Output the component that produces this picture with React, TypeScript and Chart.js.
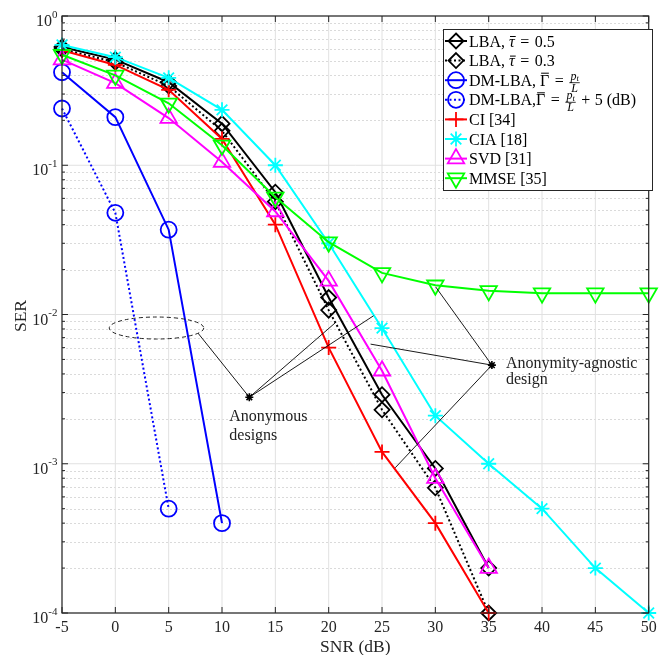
import React, { useEffect, useRef } from 'react';
import { Chart, registerables } from 'chart.js';

Chart.register(...registerables);

// ---------------- data ----------------
const SNR_DB = [-5, 0, 5, 10, 15, 20, 25, 30, 35, 40, 45, 50];
const X_TICKS = [-5, 0, 5, 10, 15, 20, 25, 30, 35, 40, 45, 50];
const Y_DECADES = [-4, -3, -2, -1, 0];

const SER_LBA_05 = [0.62, 0.51, 0.36, 0.19, 0.066, 0.013, 0.0029, 0.00093, 0.0002];
const SER_LBA_03 = [0.6, 0.49, 0.34, 0.17, 0.057, 0.0107, 0.0023, 0.00069, 0.0001];
const SER_DM_LBA = [0.42, 0.21, 0.037, 0.0004];
const SER_DM_LBA_5 = [0.24, 0.048, 0.0005];
const SER_CI = [0.59, 0.47, 0.32, 0.15, 0.04, 0.006, 0.0012, 0.0004, 0.0001];
const SER_CIA = [0.64, 0.53, 0.385, 0.235, 0.1, 0.03, 0.0081, 0.0021, 0.001, 0.0005, 0.0002, 0.0001];
const SER_SVD = [0.51, 0.355, 0.207, 0.105, 0.049, 0.0168, 0.0042, 0.0008, 0.0002];
const SER_MMSE = [0.55, 0.4, 0.26, 0.136, 0.061, 0.0305, 0.019, 0.0157, 0.0144, 0.0139, 0.0139, 0.0139];

const SERIES_LABELS = [
  'LBA, τ̄ = 0.5',
  'LBA, τ̄ = 0.3',
  'DM-LBA, Γ̄ = p_t/L',
  'DM-LBA,Γ̄ = p_t/L + 5 (dB)',
  'CI [34]',
  'CIA [18]',
  'SVD [31]',
  'MMSE [35]',
];

// annotation anchors (SNR dB, SER)
const ANON_STAR = [12.56, 0.00279];
const ANON_TARGETS = [
  [7.75, 0.0075],
  [20.7, 0.0089],
  [24.2, 0.0098],
];
const ANON_ELLIPSE_X = [-0.57, 8.29];
const ANON_ELLIPSE_Y = [0.00685, 0.00962];
const ANON_TEXT = ['Anonymous', 'designs'];
const AGN_STAR = [35.3, 0.00458];
const AGN_TARGETS = [
  [30.03, 0.0153],
  [23.93, 0.00633],
  [26.24, 0.00094],
];
const AGN_TEXT = ['Anonymity-agnostic', 'design'];

// ---------------- styling ----------------
const FONT = '"Liberation Serif", "Times New Roman", serif';
const AXIS_COLOR = '#262626';

type Kind = 'diamond' | 'circle' | 'cross' | 'star' | 'triUp' | 'triDown';

const STYLES: { color: string; kind: Kind; r: number; dash: number[] }[] = [
  { color: '#000000', kind: 'diamond', r: 7.5, dash: [] },
  { color: '#000000', kind: 'diamond', r: 7.5, dash: [2, 2.5] },
  { color: '#0000ff', kind: 'circle', r: 8, dash: [] },
  { color: '#0000ff', kind: 'circle', r: 8, dash: [2, 2.5] },
  { color: '#ff0000', kind: 'cross', r: 7.5, dash: [] },
  { color: '#00ffff', kind: 'star', r: 7.5, dash: [] },
  { color: '#ff00ff', kind: 'triUp', r: 9.5, dash: [] },
  { color: '#00ff00', kind: 'triDown', r: 9.5, dash: [] },
];

const CHART_STYLE: Record<Kind, { ps: string; rot: number }> = {
  diamond: { ps: 'rectRot', rot: 0 },
  circle: { ps: 'circle', rot: 0 },
  cross: { ps: 'cross', rot: 0 },
  star: { ps: 'star', rot: 0 },
  triUp: { ps: 'triangle', rot: 0 },
  triDown: { ps: 'triangle', rot: 180 },
};

type Seg = { t?: string; it?: boolean; bar?: number; pad?: number; frac?: boolean };
const LEGEND_SEGS: Seg[][] = [
  [{ t: 'LBA, ' }, { t: 'τ', it: true, bar: 10 }, { t: '=', pad: 5.5 }, { t: '0.5' }],
  [{ t: 'LBA, ' }, { t: 'τ', it: true, bar: 10 }, { t: '=', pad: 5.5 }, { t: '0.3' }],
  [{ t: 'DM-LBA, ' }, { t: 'Γ', bar: 12.5 }, { t: '=', pad: 5.5 }, { frac: true }],
  [{ t: 'DM-LBA,' }, { t: 'Γ', bar: 12.5 }, { t: '=', pad: 5.5 }, { frac: true }, { t: '+', pad: 4.5 }, { t: '5 (dB)' }],
  [{ t: 'CI [34]' }],
  [{ t: 'CIA [18]' }],
  [{ t: 'SVD [31]' }],
  [{ t: 'MMSE [35]' }],
];

function drawMarker(ctx: CanvasRenderingContext2D, kind: Kind, x: number, y: number, r: number) {
  ctx.beginPath();
  if (kind === 'diamond') {
    ctx.moveTo(x, y - r);
    ctx.lineTo(x + r, y);
    ctx.lineTo(x, y + r);
    ctx.lineTo(x - r, y);
    ctx.closePath();
  } else if (kind === 'circle') {
    ctx.arc(x, y, r, 0, Math.PI * 2);
  } else if (kind === 'cross') {
    ctx.moveTo(x - r, y);
    ctx.lineTo(x + r, y);
    ctx.moveTo(x, y - r);
    ctx.lineTo(x, y + r);
  } else if (kind === 'star') {
    const d = r * Math.SQRT1_2;
    ctx.moveTo(x - r, y);
    ctx.lineTo(x + r, y);
    ctx.moveTo(x, y - r);
    ctx.lineTo(x, y + r);
    ctx.moveTo(x - d, y - d);
    ctx.lineTo(x + d, y + d);
    ctx.moveTo(x - d, y + d);
    ctx.lineTo(x + d, y - d);
  } else {
    let a = kind === 'triUp' ? 0 : Math.PI;
    for (let i = 0; i < 3; i++) {
      const px = x + Math.sin(a) * r;
      const py = y - Math.cos(a) * r;
      if (i === 0) ctx.moveTo(px, py);
      else ctx.lineTo(px, py);
      a += (2 * Math.PI) / 3;
    }
    ctx.closePath();
  }
  ctx.stroke();
}

function drawRich(ctx: CanvasRenderingContext2D, segs: Seg[], x0: number, yb: number) {
  let cx = x0;
  ctx.textBaseline = 'alphabetic';
  ctx.textAlign = 'left';
  for (const s of segs) {
    if (s.frac) {
      ctx.font = `italic 12px ${FONT}`;
      const pw = ctx.measureText('p').width;
      const lw = ctx.measureText('L').width;
      ctx.font = `italic 8.5px ${FONT}`;
      const tw = ctx.measureText('t').width;
      const w = Math.max(pw + tw, lw) + 2;
      const nx = cx + (w - (pw + tw)) / 2;
      ctx.font = `italic 12px ${FONT}`;
      ctx.fillText('p', nx, yb - 6);
      ctx.fillText('L', cx + (w - lw) / 2, yb + 6);
      ctx.font = `italic 8.5px ${FONT}`;
      ctx.fillText('t', nx + pw, yb - 4.5);
      ctx.lineWidth = 0.8;
      ctx.beginPath();
      ctx.moveTo(cx, yb - 3);
      ctx.lineTo(cx + w, yb - 3);
      ctx.stroke();
      cx += w + 1;
    } else {
      ctx.font = `${s.it ? 'italic ' : ''}16px ${FONT}`;
      const t = s.t || '';
      const pad = s.pad || 0;
      cx += pad;
      ctx.fillText(t, cx, yb);
      const w = ctx.measureText(t).width;
      if (s.bar) {
        ctx.lineWidth = 1;
        ctx.beginPath();
        ctx.moveTo(cx + 1, yb - s.bar);
        ctx.lineTo(cx + w + (s.it ? 1 : -0.5), yb - s.bar);
        ctx.stroke();
      }
      cx += w + pad;
    }
  }
}

const lookPlugin = {
  id: 'matlabLook',
  beforeDatasetsDraw(chart: any) {
    const { ctx, chartArea: a, scales } = chart;
    const xs = scales.x;
    const ys = scales.y;
    ctx.save();
    ctx.lineWidth = 1;
    // minor y grid
    ctx.strokeStyle = '#dadada';
    ctx.setLineDash([2, 2]);
    for (const d of Y_DECADES.slice(0, -1)) {
      for (let m = 2; m <= 9; m++) {
        const py = Math.round(ys.getPixelForValue(m * Math.pow(10, d))) + 0.5;
        ctx.beginPath();
        ctx.moveTo(a.left, py);
        ctx.lineTo(a.right, py);
        ctx.stroke();
      }
    }
    // major grid
    ctx.setLineDash([]);
    ctx.strokeStyle = '#e1e1e1';
    for (const d of Y_DECADES) {
      const py = ys.getPixelForValue(Math.pow(10, d));
      ctx.beginPath();
      ctx.moveTo(a.left, py);
      ctx.lineTo(a.right, py);
      ctx.stroke();
    }
    for (const t of X_TICKS) {
      const px = xs.getPixelForValue(t);
      ctx.beginPath();
      ctx.moveTo(px, a.top);
      ctx.lineTo(px, a.bottom);
      ctx.stroke();
    }
    ctx.restore();
  },
  afterDatasetsDraw(chart: any) {
    const { ctx, chartArea: a, scales } = chart;
    const xs = scales.x;
    const ys = scales.y;
    const P = (p: number[]) => [xs.getPixelForValue(p[0]), ys.getPixelForValue(p[1])];
    ctx.save();

    // axes box and ticks
    ctx.strokeStyle = AXIS_COLOR;
    ctx.lineWidth = 1.2;
    ctx.strokeRect(a.left, a.top, a.right - a.left, a.bottom - a.top);
    ctx.lineWidth = 1;
    ctx.beginPath();
    for (const t of X_TICKS) {
      const px = xs.getPixelForValue(t);
      ctx.moveTo(px, a.bottom);
      ctx.lineTo(px, a.bottom - 6);
      ctx.moveTo(px, a.top);
      ctx.lineTo(px, a.top + 6);
    }
    for (const d of Y_DECADES) {
      const py = ys.getPixelForValue(Math.pow(10, d));
      ctx.moveTo(a.left, py);
      ctx.lineTo(a.left + 6, py);
      ctx.moveTo(a.right, py);
      ctx.lineTo(a.right - 6, py);
      if (d < 0) {
        for (let m = 2; m <= 9; m++) {
          const pm = ys.getPixelForValue(m * Math.pow(10, d));
          ctx.moveTo(a.left, pm);
          ctx.lineTo(a.left + 3, pm);
          ctx.moveTo(a.right, pm);
          ctx.lineTo(a.right - 3, pm);
        }
      }
    }
    ctx.stroke();

    // tick labels
    ctx.fillStyle = AXIS_COLOR;
    ctx.textBaseline = 'alphabetic';
    ctx.font = `16px ${FONT}`;
    ctx.textAlign = 'center';
    for (const t of X_TICKS) {
      ctx.fillText(String(t), xs.getPixelForValue(t), a.bottom + 19);
    }
    for (const d of Y_DECADES) {
      const py = ys.getPixelForValue(Math.pow(10, d));
      const ex = String(d);
      ctx.font = `11px ${FONT}`;
      const ew = ctx.measureText(ex).width;
      ctx.font = `16px ${FONT}`;
      const bw = ctx.measureText('10').width;
      const right = a.left - 4.5;
      ctx.textAlign = 'left';
      ctx.fillText('10', right - ew - bw, py + 10);
      ctx.font = `11px ${FONT}`;
      ctx.fillText(ex, right - ew, py + 1.5);
    }
    // axis titles
    ctx.font = `17.5px ${FONT}`;
    ctx.textAlign = 'center';
    ctx.fillText('SNR (dB)', (a.left + a.right) / 2, a.bottom + 38.5);
    ctx.save();
    ctx.translate(26, (a.top + a.bottom) / 2 + 1.5);
    ctx.rotate(-Math.PI / 2);
    ctx.fillText('SER', 0, 0);
    ctx.restore();

    // annotations
    ctx.strokeStyle = '#000';
    ctx.fillStyle = '#000';
    const ex0 = xs.getPixelForValue(ANON_ELLIPSE_X[0]);
    const ex1 = xs.getPixelForValue(ANON_ELLIPSE_X[1]);
    const ey0 = ys.getPixelForValue(ANON_ELLIPSE_Y[0]);
    const ey1 = ys.getPixelForValue(ANON_ELLIPSE_Y[1]);
    ctx.save();
    ctx.strokeStyle = '#222';
    ctx.lineWidth = 1;
    ctx.setLineDash([4, 3]);
    ctx.beginPath();
    ctx.ellipse((ex0 + ex1) / 2, (ey0 + ey1) / 2, Math.abs(ex1 - ex0) / 2, Math.abs(ey1 - ey0) / 2, 0, 0, Math.PI * 2);
    ctx.stroke();
    ctx.restore();

    const groups: [number[], number[][], string[], number, number, number][] = [
      [ANON_STAR, ANON_TARGETS, ANON_TEXT, -20, 24, 42.5],
      [AGN_STAR, AGN_TARGETS, AGN_TEXT, 14, 2.5, 19],
    ];
    for (const [star, targets, text, dx, dy1, dy2] of groups) {
      const [sx, sy] = P(star);
      ctx.strokeStyle = '#000';
      ctx.lineWidth = 0.9;
      ctx.beginPath();
      for (const t of targets) {
        const [tx, ty] = P(t);
        ctx.moveTo(sx, sy);
        ctx.lineTo(tx, ty);
      }
      ctx.stroke();
      ctx.lineWidth = 1.6;
      drawMarker(ctx, 'star', sx, sy, 4);
      ctx.font = `16px ${FONT}`;
      ctx.textAlign = 'left';
      ctx.fillStyle = '#222';
      ctx.fillText(text[0], sx + dx, sy + dy1);
      ctx.fillText(text[1], sx + dx, sy + dy2);
    }

    // legend
    const lx0 = 443, lx1 = 652, ly0 = 29, ly1 = 190;
    ctx.fillStyle = '#fff';
    ctx.fillRect(lx0, ly0, lx1 - lx0, ly1 - ly0);
    ctx.strokeStyle = AXIS_COLOR;
    ctx.lineWidth = 1;
    ctx.strokeRect(lx0 + 0.5, ly0 + 0.5, lx1 - lx0, ly1 - ly0);
    for (let i = 0; i < STYLES.length; i++) {
      const st = STYLES[i];
      const cy = 41 + i * 19.6;
      ctx.strokeStyle = st.color;
      ctx.lineWidth = 2;
      ctx.setLineDash(st.dash);
      ctx.beginPath();
      ctx.moveTo(445, cy);
      ctx.lineTo(467, cy);
      ctx.stroke();
      ctx.setLineDash([]);
      ctx.lineWidth = 1.8;
      drawMarker(ctx, st.kind, 456, cy, st.r);
      ctx.fillStyle = '#000';
      ctx.strokeStyle = '#000';
      drawRich(ctx, LEGEND_SEGS[i], 469, cy + 5.5);
    }
    ctx.restore();
  },
};

const ALL_SER = [SER_LBA_05, SER_LBA_03, SER_DM_LBA, SER_DM_LBA_5, SER_CI, SER_CIA, SER_SVD, SER_MMSE];

export default function App() {
  const ref = useRef<HTMLCanvasElement>(null);
  useEffect(() => {
    document.body.style.margin = '0';
    if (!ref.current) return;
    const datasets = ALL_SER.map((vals, i) => {
      const st = STYLES[i];
      const cs = CHART_STYLE[st.kind];
      return {
        label: SERIES_LABELS[i],
        data: vals.map((v, j) => ({ x: SNR_DB[j], y: v })),
        borderColor: st.color,
        backgroundColor: st.color,
        borderWidth: 2,
        borderDash: st.dash,
        pointStyle: cs.ps,
        pointRotation: cs.rot,
        pointRadius: st.r,
        pointBorderColor: st.color,
        pointBackgroundColor: 'rgba(0,0,0,0)',
        pointBorderWidth: 1.8,
        tension: 0,
        clip: false as any,
        order: ALL_SER.length - i,
      };
    });
    const chart = new Chart(ref.current, {
      type: 'line',
      data: { datasets },
      options: {
        animation: false,
        responsive: false,
        devicePixelRatio: 1,
        layout: { padding: { left: 62, right: 2, top: 16, bottom: 42 } },
        plugins: { legend: { display: false }, tooltip: { enabled: false }, title: { display: false } },
        events: [],
        scales: {
          x: { type: 'linear', min: -5, max: 50, display: false },
          y: { type: 'logarithmic', min: 1e-4, max: 1, display: false },
        },
      },
      plugins: [lookPlugin],
    } as any);
    return () => chart.destroy();
  }, []);
  return (
    <div style={{ width: 660, height: 655, background: '#fff' }}>
      <canvas ref={ref} width={660} height={655} style={{ display: 'block' }} />
    </div>
  );
}
